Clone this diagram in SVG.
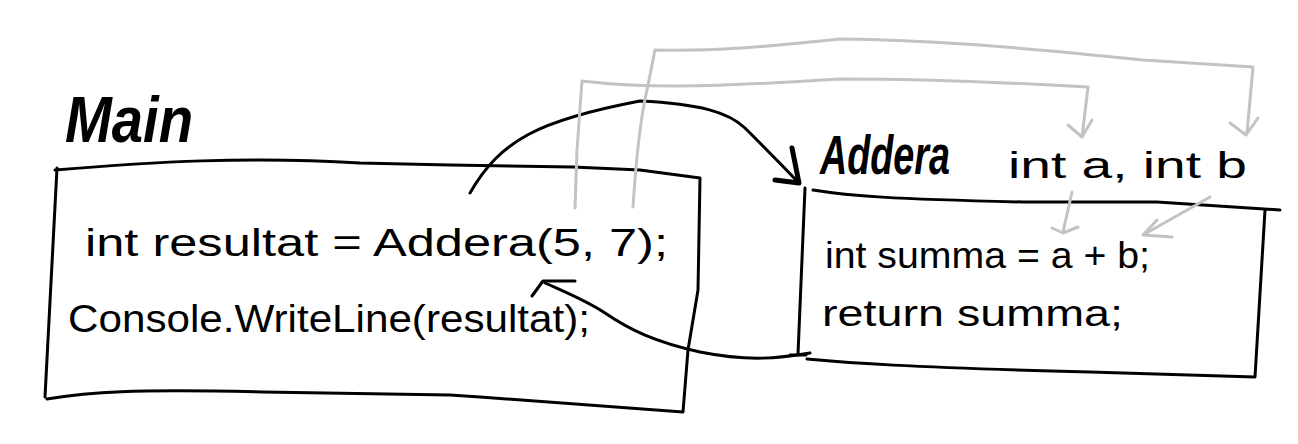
<svg xmlns="http://www.w3.org/2000/svg" width="1298" height="444" viewBox="0 0 1298 444">
<style>
.bg{fill:#ffffff}
.ink{fill:none;stroke:#000;stroke-width:3;stroke-linecap:round;stroke-linejoin:round}
.head{fill:none;stroke:#000;stroke-width:5;stroke-linecap:round;stroke-linejoin:round}
.gray{fill:none;stroke:#c3c3c3;stroke-width:3;stroke-linecap:round;stroke-linejoin:round}
.title{font-family:"Liberation Sans",Arial,sans-serif;font-weight:bold;font-style:italic;fill:#000}
.code{font-family:"Liberation Sans",Arial,sans-serif;fill:#000}
</style>
<rect class="bg" x="0" y="0" width="1298" height="444"/>

<g id="main">
  <text class="title" x="65" y="142" font-size="64" textLength="128" lengthAdjust="spacingAndGlyphs">Main</text>
  <path class="ink" d="M57,168 L45,397 M55,170 C150,162 250,156 360,163 L450,165 L573,167 L640,170 L700,178 L698,290 L688,350 L683,412 M47,399 C90,392 130,389 263,392 L450,395 L480,397 L683,412"/>
  <text class="code" x="85" y="256" font-size="38" textLength="583" lengthAdjust="spacingAndGlyphs">int resultat = Addera(5, 7);</text>
  <text class="code" x="68" y="332" font-size="38" textLength="522" lengthAdjust="spacingAndGlyphs">Console.WriteLine(resultat);</text>
</g>

<g id="addera">
  <text class="title" x="820" y="174" font-size="56" textLength="130" lengthAdjust="spacingAndGlyphs">Addera</text>
  <text class="code" x="1008" y="178" font-size="36" textLength="239" lengthAdjust="spacingAndGlyphs">int a, int b</text>
  <path class="ink" d="M805,188 L798,354 M790,355 L806,355 M813,190 C850,196 890,199 1023,202 L1157,202 L1280,210 M1265,210 L1255,377 M807,359 C850,363 900,367 1090,372 L1255,377"/>
  <text class="code" x="825" y="268" font-size="36" textLength="325" lengthAdjust="spacingAndGlyphs">int summa = a + b;</text>
  <text class="code" x="822" y="326" font-size="36" textLength="301" lengthAdjust="spacingAndGlyphs">return summa;</text>
</g>

<g id="connectors">
  <path class="ink" d="M470,193 C500,140 540,120 640,101 C700,104 728,112 745,128 C765,148 783,166 797,181"/>
  <path class="head" d="M775,180 L799,183 L792,148"/>
  <path class="ink" d="M810,353 C780,358 750,362 700,352 C655,342 630,330 605,313 C585,300 565,292 545,283"/>
  <path class="ink" d="M575,281 L543,281 L532,296"/>
  <path class="gray" d="M575,208 L577,150 L582,81 C640,88 700,88 840,79 C920,79 1000,82 1088,87 L1082,137"/>
  <path class="gray" d="M1068,125 L1082,137 L1092,120"/>
  <path class="gray" d="M633,207 C636,160 640,120 647,90 L655,50 C720,52 780,45 840,39 C920,40 1000,45 1143,60 L1253,67 L1247,133"/>
  <path class="gray" d="M1230,123 L1246,135 L1258,118"/>
  <path class="gray" d="M1072,192 L1063,232 M1052,228 L1063,233 L1078,227"/>
  <path class="gray" d="M1210,197 L1143,235 M1157,220 L1143,235 L1172,237"/>
</g>
</svg>
